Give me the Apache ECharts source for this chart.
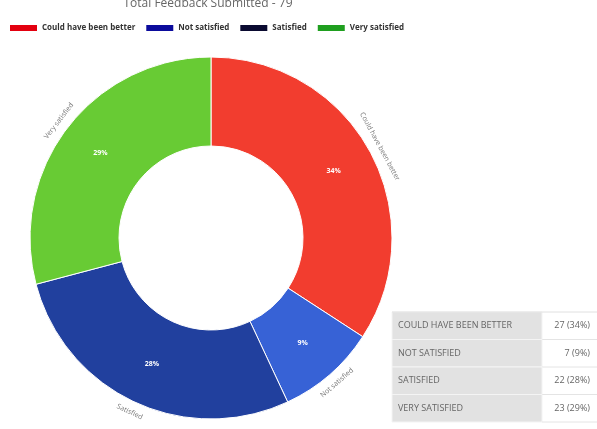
<!DOCTYPE html>
<html>
<head>
<meta charset="utf-8">
<script src="https://cdn.jsdelivr.net/npm/echarts@6/dist/echarts.min.js"></script>
<style>
  html, body { margin: 0; padding: 0; background: #fff; }
  #chart { width: 597px; height: 429px; }
</style>
</head>
<body>
<div id="chart"></div>
<script>
// Feedback categories and counts
var categories = ['Could have been better', 'Not satisfied', 'Satisfied', 'Very satisfied'];
var counts = [27, 7, 22, 23];
var sliceColors = ['#f23d2f', '#3762d6', '#21409e', '#68cb34'];
var legendColors = ['#e3000f', '#0b0b9c', '#0a0a30', '#1f9f1f'];

var total = counts.reduce(function (a, b) { return a + b; }, 0);
var pct = counts.map(function (v) { return Math.round(v / total * 100); });

var chart = echarts.init(document.getElementById('chart'), null, { renderer: 'canvas' });

var cx = 211, cy = 238;

var pieData = categories.map(function (c, i) {
  return { name: c, value: counts[i], itemStyle: { color: sliceColors[i] } };
});
var ringData = categories.map(function (c, i) {
  return { name: c, value: counts[i] };
});

// Summary table drawn beside the donut
var tableX = 392, colSplit = 542, tableRight = 597, rowTop = 312, rowH = 27.5;
var tableEls = [];
categories.forEach(function (c, i) {
  var y = rowTop + i * rowH;
  tableEls.push({
    type: 'rect', shape: { x: tableX, y: y, width: colSplit - tableX, height: rowH },
    style: { fill: '#e2e2e2', stroke: '#f4f4f4', lineWidth: 1 }, silent: true
  });
  tableEls.push({
    type: 'line', shape: { x1: colSplit, y1: y + rowH, x2: tableRight, y2: y + rowH },
    style: { stroke: '#e4e4e4', lineWidth: 1 }, silent: true
  });
  tableEls.push({
    type: 'text', x: tableX + 6, y: y + rowH / 2,
    style: { text: c.toUpperCase(), fill: '#666', font: '9px "Open Sans", sans-serif', textVerticalAlign: 'middle' },
    silent: true
  });
  tableEls.push({
    type: 'text', x: tableRight - 7, y: y + rowH / 2,
    style: { text: counts[i] + ' (' + pct[i] + '%)', fill: '#666', font: '9px "Open Sans", sans-serif', textAlign: 'right', textVerticalAlign: 'middle' },
    silent: true
  });
});
tableEls.push({
  type: 'line', shape: { x1: tableX, y1: rowTop, x2: tableRight, y2: rowTop },
  style: { stroke: '#e0e0e0', lineWidth: 1 }, silent: true
});

chart.setOption({
  animation: false,
  backgroundColor: '#fff',
  title: {
    text: 'Total Feedback Submitted - ' + total,
    left: 203, top: -7,
    textAlign: 'center',
    textStyle: { fontSize: 12, fontWeight: 'normal', color: '#666', fontFamily: '"Open Sans", sans-serif' }
  },
  legend: {
    left: 3, top: 18,
    itemWidth: 29, itemHeight: 8, itemGap: 9,
    icon: 'rect',
    textStyle: { fontSize: 8, fontWeight: 'bold', color: '#333', fontFamily: '"Open Sans", sans-serif', padding: [0, 0, 0, -1] },
    data: categories.map(function (c, i) {
      return { name: c, itemStyle: { color: legendColors[i] } };
    })
  },
  series: [
    {
      type: 'pie',
      center: [cx, cy],
      radius: [92, 181],
      startAngle: 90,
      clockwise: true,
      legendHoverLink: false,
      itemStyle: { borderColor: '#ffffff', borderWidth: 1 },
      label: {
        position: 'inside',
        formatter: function (p) { return pct[p.dataIndex] + '%'; },
        color: '#fff', fontSize: 7, fontWeight: 'bold', fontFamily: '"Open Sans", sans-serif'
      },
      labelLine: { show: false },
      data: pieData
    },
    {
      // invisible ring carrying the tangential category names
      type: 'pie',
      center: [cx, cy],
      radius: [182, 196],
      startAngle: 90,
      clockwise: true,
      silent: true,
      legendHoverLink: false,
      itemStyle: { color: 'rgba(0,0,0,0)' },
      label: {
        position: 'inside',
        rotate: 'tangential',
        formatter: '{b}',
        color: '#777', fontSize: 7, fontFamily: '"Open Sans", sans-serif'
      },
      labelLine: { show: false },
      emphasis: { disabled: true },
      data: ringData
    }
  ],
  graphic: tableEls
});
</script>
</body>
</html>
